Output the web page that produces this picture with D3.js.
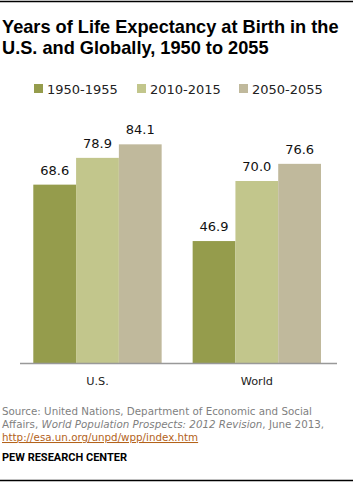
<!DOCTYPE html>
<html><head><meta charset="utf-8">
<script src="https://cdn.jsdelivr.net/npm/d3@7/dist/d3.min.js"></script>
<style>
body{margin:0;background:#fff;}
svg{display:block;}
</style></head>
<body>
<script>
const categories = ["U.S.", "World"];
const seriesNames = ["1950-1955", "2010-2015", "2050-2055"];
const values1950 = [68.6, 46.9];
const values2010 = [78.9, 70.0];
const values2050 = [84.1, 76.6];
const colors = ["#959c4c", "#c2c68c", "#c0b99c"];
const seriesValues = [values1950, values2010, values2050];

const W = 355, H = 483;
const svg = d3.select("body").append("svg").attr("width", W).attr("height", H);

// top and bottom rules
svg.append("line").attr("x1", 0).attr("x2", 353).attr("y1", 1.5).attr("y2", 1.5).attr("stroke", "#000").attr("stroke-width", 1.5);
svg.append("line").attr("x1", 0).attr("x2", 353).attr("y1", 480.5).attr("y2", 480.5).attr("stroke", "#000").attr("stroke-width", 1.5);

// title
const title = svg.append("text").attr("x", 2).attr("font-family", "Liberation Sans, Arial, sans-serif")
  .attr("font-weight", "bold").attr("font-size", 18.2).attr("fill", "#000");
title.append("tspan").attr("x", 2).attr("y", 33).text("Years of Life Expectancy at Birth in the");
title.append("tspan").attr("x", 2).attr("y", 54).text("U.S. and Globally, 1950 to 2055");

// legend
const legendX = [34, 137, 239];
const lg = svg.append("g");
seriesNames.forEach((s, i) => {
  lg.append("rect").attr("x", legendX[i]).attr("y", 84).attr("width", 9).attr("height", 9).attr("fill", colors[i]);
  lg.append("text").attr("x", legendX[i] + 13).attr("y", 93.5)
    .attr("font-family", "DejaVu Sans, Verdana, sans-serif").attr("font-size", 13).attr("fill", "#222").text(s);
});

// scales
const baseline = 363;
const y = d3.scaleLinear().domain([0, 100]).range([baseline, 103]);
const x0 = d3.scaleBand().domain(categories).range([33.3, 321]).paddingInner(0.1945).paddingOuter(0);
const x1 = d3.scaleBand().domain(seriesNames).range([0, x0.bandwidth()]).padding(0);

const data = [];
categories.forEach((c, ci) => {
  seriesNames.forEach((s, si) => {
    data.push({cat: c, ser: s, v: seriesValues[si][ci], color: colors[si]});
  });
});

svg.append("g").selectAll("rect").data(data).join("rect")
  .attr("x", d => x0(d.cat) + x1(d.ser))
  .attr("y", d => y(d.v))
  .attr("width", x1.bandwidth())
  .attr("height", d => baseline - y(d.v))
  .attr("fill", d => d.color);

svg.append("g").selectAll("text").data(data).join("text")
  .attr("x", d => x0(d.cat) + x1(d.ser) + x1.bandwidth() / 2)
  .attr("y", d => y(d.v) - 10)
  .attr("text-anchor", "middle")
  .attr("font-family", "DejaVu Sans, Verdana, sans-serif").attr("font-size", 13).attr("fill", "#111")
  .text(d => d.v.toFixed(1));

// axis
const axis = svg.append("g").attr("transform", `translate(0,${baseline})`)
  .call(d3.axisBottom(x0).tickSize(0).tickPadding(14).tickSizeOuter(0));
axis.select(".domain").attr("d", `M20,0.5H337`).attr("stroke", "#999").attr("stroke-width", 1.5);
axis.selectAll("text").attr("font-family", "DejaVu Sans, Verdana, sans-serif").attr("font-size", 11.3).attr("fill", "#222");

// source
const src = svg.append("text").attr("font-family", "DejaVu Sans, Verdana, sans-serif").attr("font-size", 10.3).attr("fill", "#7f7f7f");
src.append("tspan").attr("x", 2).attr("y", 415).text("Source: United Nations, Department of Economic and Social");
const l2 = src.append("tspan").attr("x", 2).attr("y", 428);
l2.append("tspan").text("Affairs, ");
l2.append("tspan").attr("font-style", "italic").text("World Population Prospects: 2012 Revision");
l2.append("tspan").text(", June 2013,");
svg.append("text").attr("x", 2).attr("y", 441).attr("font-family", "DejaVu Sans, Verdana, sans-serif").attr("font-size", 10.3)
  .attr("fill", "#b3621a").attr("text-decoration", "underline").text("http://esa.un.org/unpd/wpp/index.htm");

svg.append("text").attr("x", 2).attr("y", 461).attr("font-family", "Roboto, Liberation Sans, Arial, sans-serif")
  .attr("font-weight", "bold").attr("font-size", 11).attr("fill", "#000").text("PEW RESEARCH CENTER");
</script>
</body></html>
